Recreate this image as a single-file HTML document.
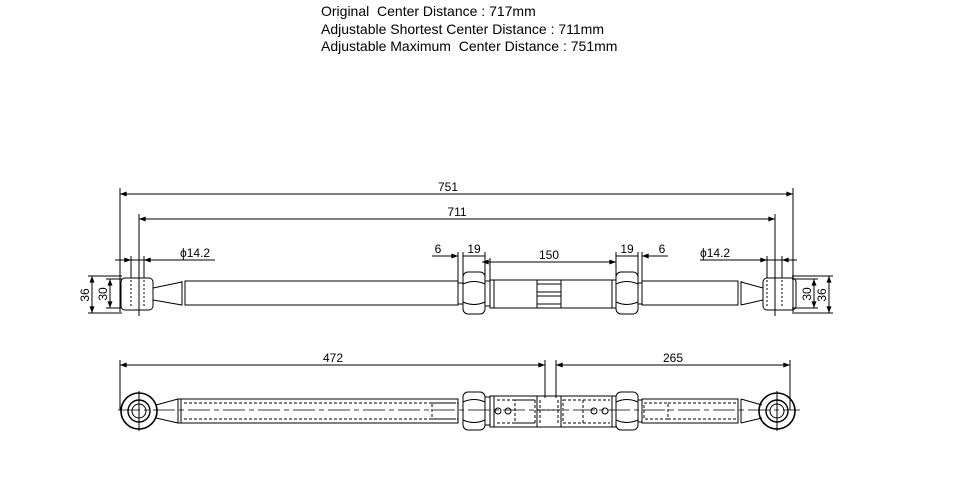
<!DOCTYPE html>
<html><head><style>
html,body{margin:0;padding:0;background:#fff;}
svg{display:block;}
text{font-family:"Liberation Sans",Arial,sans-serif;fill:#000;white-space:pre;}
</style></head><body>
<svg width="958" height="494" viewBox="0 0 958 494" xmlns="http://www.w3.org/2000/svg" xml:space="preserve">
<defs>
<marker id="a" viewBox="0 0 8 6" refX="8" refY="3" markerWidth="8" markerHeight="5" orient="auto-start-reverse" markerUnits="userSpaceOnUse"><path d="M0,0 L8,3 L0,6z" fill="#000"/></marker>
</defs>
<text x="321" y="16" font-size="14">Original  Center Distance : 717mm</text>
<text x="321" y="34" font-size="14">Adjustable Shortest Center Distance : 711mm</text>
<text x="321" y="51" font-size="14">Adjustable Maximum  Center Distance : 751mm</text>

<g stroke="#000" stroke-width="1" fill="none">
<line x1="120" y1="194" x2="793" y2="194" marker-start="url(#a)" marker-end="url(#a)"/>
<line x1="139" y1="219" x2="775" y2="219" marker-start="url(#a)" marker-end="url(#a)"/>
<line x1="120" y1="188" x2="120" y2="312"/>
<line x1="793" y1="188" x2="793" y2="312"/>
<line x1="139" y1="214" x2="139" y2="316"/>
<line x1="775" y1="214" x2="775" y2="316"/>
<line x1="115" y1="260" x2="215" y2="260"/>
<line x1="115" y1="260" x2="131" y2="260" marker-end="url(#a)"/>
<line x1="160" y1="260" x2="144" y2="260" marker-end="url(#a)"/>
<line x1="131" y1="256" x2="131" y2="278"/><line x1="144" y1="256" x2="144" y2="278"/>
<line x1="700" y1="260" x2="797" y2="260"/>
<line x1="755" y1="260" x2="767" y2="260" marker-end="url(#a)"/>
<line x1="797" y1="260" x2="782" y2="260" marker-end="url(#a)"/>
<line x1="767" y1="256" x2="767" y2="278"/><line x1="782" y1="256" x2="782" y2="278"/>
<line x1="92" y1="276" x2="92" y2="313" marker-start="url(#a)" marker-end="url(#a)"/>
<line x1="110" y1="279" x2="110" y2="308" marker-start="url(#a)" marker-end="url(#a)"/>
<line x1="88" y1="276" x2="122" y2="276"/><line x1="88" y1="313" x2="122" y2="313"/>
<line x1="106" y1="279" x2="122" y2="279"/><line x1="106" y1="308" x2="122" y2="308"/>
<line x1="829" y1="276" x2="829" y2="313" marker-start="url(#a)" marker-end="url(#a)"/>
<line x1="814" y1="279" x2="814" y2="308" marker-start="url(#a)" marker-end="url(#a)"/>
<line x1="792" y1="276" x2="833" y2="276"/><line x1="792" y1="313" x2="833" y2="313"/>
<line x1="792" y1="279" x2="818" y2="279"/><line x1="792" y1="308" x2="818" y2="308"/>
<line x1="432" y1="256" x2="458" y2="256"/>
<line x1="445" y1="256" x2="458" y2="256" marker-end="url(#a)"/>
<line x1="458" y1="252" x2="458" y2="282"/><line x1="463" y1="252" x2="463" y2="280"/><line x1="485" y1="252" x2="485" y2="280"/>
<line x1="463" y1="256" x2="485" y2="256"/>
<line x1="482" y1="262" x2="616" y2="262" marker-start="url(#a)" marker-end="url(#a)"/>
<line x1="490" y1="258" x2="490" y2="283"/><line x1="616" y1="252" x2="616" y2="283"/>
<line x1="616" y1="256" x2="638" y2="256"/>
<line x1="638" y1="252" x2="638" y2="280"/><line x1="642" y1="252" x2="642" y2="282"/>
<line x1="642" y1="256" x2="668" y2="256"/>
<line x1="655" y1="256" x2="642" y2="256" marker-end="url(#a)"/>

<rect x="121" y="278" width="32" height="32" rx="4"/>
<line x1="131" y1="280" x2="131" y2="308" stroke-dasharray="2,2"/>
<line x1="144" y1="280" x2="144" y2="308" stroke-dasharray="2,2"/>
<path d="M153,288 L182,282 L182,305 L153,300"/>
<line x1="182" y1="281" x2="182" y2="305"/><line x1="185" y1="281" x2="185" y2="305"/>
<rect x="185" y="281" width="273" height="24"/>
<rect x="458" y="283" width="5" height="21"/>
<rect x="463" y="272" width="22" height="42" rx="5"/>
<path d="M463,284 Q474,279 485,284 M463,302 Q474,307 485,302"/>
<rect x="485" y="281" width="5" height="25"/>
<rect x="490" y="280" width="126" height="28"/>
<line x1="494" y1="280" x2="494" y2="308"/><line x1="612" y1="280" x2="612" y2="308"/>
<rect x="537" y="280" width="24" height="28"/>
<path d="M537,284 L561,284 M537,292 L561,292 M537,296 L561,296 M537,304 L561,304"/>
<rect x="616" y="272" width="22" height="42" rx="5"/>
<path d="M616,284 Q627,279 638,284 M616,302 Q627,307 638,302"/>
<rect x="638" y="283" width="4" height="21"/>
<rect x="642" y="281" width="96" height="24"/>
<line x1="738" y1="281" x2="738" y2="305"/><line x1="741" y1="281" x2="741" y2="305"/>
<path d="M741,282 L763,288 L763,300 L741,305"/>
<rect x="763" y="278" width="33" height="32" rx="4"/>
<line x1="767" y1="280" x2="767" y2="308" stroke-dasharray="2,2"/>
<line x1="782" y1="280" x2="782" y2="308" stroke-dasharray="2,2"/>

<line x1="120" y1="365" x2="545" y2="365" marker-start="url(#a)" marker-end="url(#a)"/>
<line x1="556" y1="365" x2="790" y2="365" marker-start="url(#a)" marker-end="url(#a)"/>
<line x1="120" y1="360" x2="120" y2="410"/>
<line x1="790" y1="360" x2="790" y2="410"/>
<line x1="545" y1="360" x2="545" y2="398"/><line x1="556" y1="360" x2="556" y2="398"/>

<line x1="118" y1="410" x2="800" y2="410" stroke-dasharray="22,4,5,4" stroke-width="0.8"/>
<circle cx="139" cy="411" r="18" stroke-width="1.6"/>
<circle cx="139" cy="411" r="11" stroke-width="1.4"/>
<circle cx="139" cy="411" r="7"/>
<line x1="139" y1="391" x2="139" y2="431"/>
<path d="M156,405 L178,399 M156,418 L178,423"/>
<rect x="178" y="399" width="280" height="24"/>
<line x1="181" y1="399" x2="181" y2="423"/>
<path d="M184,403 L456,403 M184,419 L456,419" stroke-dasharray="3,2"/>
<rect x="432" y="403" width="26" height="16" stroke-dasharray="3,2"/>
<rect x="463" y="392" width="22" height="38" rx="5"/>
<path d="M463,402 Q474,397 485,402 M463,420 Q474,425 485,420"/>
<rect x="485" y="397" width="5" height="28"/>
<rect x="490" y="396" width="126" height="31"/>
<line x1="494" y1="396" x2="494" y2="427"/><line x1="612" y1="396" x2="612" y2="427"/>
<rect x="537" y="396" width="24" height="31"/>
<path d="M497,400 L535,400 M497,423 L535,423 M563,400 L610,400 M563,423 L610,423" stroke-dasharray="3,2"/>
<rect x="515" y="400" width="20" height="23" stroke-dasharray="3,2"/>
<rect x="563" y="400" width="20" height="23" stroke-dasharray="3,2"/>
<path d="M540,400 L540,423 M558,400 L558,423 M537,410 L561,410" stroke-dasharray="3,2"/>
<circle cx="498" cy="411" r="3"/><circle cx="508" cy="411" r="3"/>
<circle cx="594" cy="411" r="3"/><circle cx="605" cy="411" r="3"/>
<rect x="616" y="392" width="22" height="38" rx="5"/>
<path d="M616,402 Q627,397 638,402 M616,420 Q627,425 638,420"/>
<rect x="638" y="400" width="4" height="22"/>
<rect x="642" y="399" width="96" height="24"/>
<rect x="644" y="403" width="24" height="16" stroke-dasharray="3,2"/>
<path d="M668,403 L736,403 M668,419 L736,419" stroke-dasharray="3,2"/>
<line x1="738" y1="399" x2="738" y2="423"/><line x1="741" y1="399" x2="741" y2="423"/>
<path d="M741,399 L762,405 M741,423 L762,418"/>
<circle cx="777" cy="411" r="18" stroke-width="1.6"/>
<circle cx="777" cy="411" r="11" stroke-width="1.4"/>
<circle cx="777" cy="411" r="7"/>
<line x1="777" y1="391" x2="777" y2="431"/>
</g>

<g font-size="12">
<text x="448" y="191" text-anchor="middle">751</text>
<text x="457" y="216" text-anchor="middle">711</text>
<text x="180" y="257">ϕ14.2</text>
<text x="700" y="257">ϕ14.2</text>
<text x="438" y="253" text-anchor="middle">6</text>
<text x="474" y="253" text-anchor="middle">19</text>
<text x="549" y="259" text-anchor="middle">150</text>
<text x="627" y="253" text-anchor="middle">19</text>
<text x="662" y="253" text-anchor="middle">6</text>
<text x="333" y="362" text-anchor="middle">472</text>
<text x="673" y="362" text-anchor="middle">265</text>
<text transform="translate(89,295) rotate(-90)" text-anchor="middle">36</text>
<text transform="translate(107,294) rotate(-90)" text-anchor="middle">30</text>
<text transform="translate(811,294) rotate(-90)" text-anchor="middle">30</text>
<text transform="translate(826,295) rotate(-90)" text-anchor="middle">36</text>
</g>
</svg>
</body></html>
